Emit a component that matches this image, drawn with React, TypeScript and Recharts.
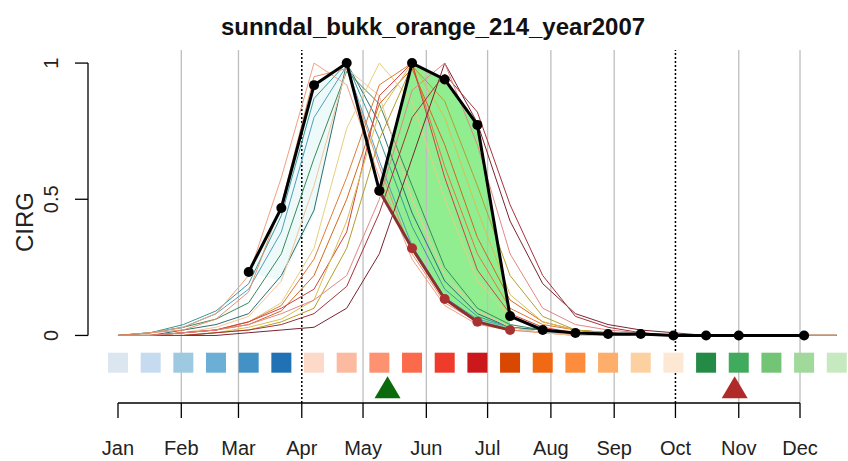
import React from 'react';
import {
  ComposedChart,
  Line,
  Area,
  Scatter,
  XAxis,
  YAxis,
  ReferenceLine
} from 'recharts';

// 16-day composite days of year
const days = [1, 17, 33, 49, 65, 81, 97, 113, 129, 145, 161, 177, 193, 209, 225, 241, 257, 273, 289, 305, 321, 337, 353];

const monthNames = ['Jan', 'Feb', 'Mar', 'Apr', 'May', 'Jun', 'Jul', 'Aug', 'Sep', 'Oct', 'Nov', 'Dec'];
const monthDays = [1, 32, 60, 91, 121, 152, 182, 213, 244, 274, 305, 335];
const gridDays = [32, 60, 121, 152, 182, 213, 244, 305, 335];
const dottedDays = [91, 274];
const yTicks = [0, 0.5, 1];

// current year (black) and reference curve (brown)
const year2007 = [null, null, null, null, 0.233, 0.468, 0.919, 1.0, 0.531, 1.0, 0.94, 0.773, 0.071, 0.02, 0.009, 0.005, 0.005, 0, 0, 0, null, 0, null];
const refCurve = [null, null, null, null, null, null, null, null, 0.531, 0.32, 0.134, 0.05, 0.02, null, null, null, null, null, null, null, null, null, null];
const springLow = [null, null, null, null, 0.233, 0.2, 0.44, 1.0, null, null, null, null, null, null, null, null, null, null, null, null, null, null, null];

// other years (thin lines)
const teal1 = [0, 0.01, 0.04, 0.09, 0.19, 0.44, 0.87, 1.0, 0.72, 0.4, 0.17, 0.07, 0.03, 0.02, 0.01, 0.01, 0, 0, 0, 0, 0, 0, 0];
const teal2 = [0, 0.01, 0.03, 0.08, 0.17, 0.38, 0.8, 0.99, 0.64, 0.33, 0.14, 0.06, 0.03, 0.01, 0.01, 0, 0, 0, 0, 0, 0, 0, 0];
const teal3 = [0, 0, 0.02, 0.04, 0.08, 0.22, 0.46, 1.0, 0.78, 0.45, 0.2, 0.08, 0.03, 0.02, 0.01, 0, 0, 0, 0, 0, 0, 0, 0];
const green1 = [0, 0.01, 0.03, 0.06, 0.12, 0.3, 0.65, 0.97, 0.85, 0.55, 0.25, 0.1, 0.04, 0.02, 0.01, 0, 0, 0, 0, 0, 0, 0, 0];
const salmon1 = [0, 0.01, 0.03, 0.08, 0.22, 0.58, 1.0, 0.92, 0.58, 0.28, 0.11, 0.04, 0.02, 0.01, 0, 0, 0, 0, 0, 0, 0, 0, 0];
const salmon2 = [0, 0.01, 0.02, 0.06, 0.16, 0.48, 0.95, 0.98, 0.62, 0.3, 0.12, 0.05, 0.02, 0.01, 0, 0, 0, 0, 0, 0, 0, 0, 0];
const peach = [0, 0, 0.01, 0.03, 0.07, 0.2, 0.55, 0.98, 0.88, 0.5, 0.22, 0.09, 0.03, 0.01, 0, 0, 0, 0, 0, 0, 0, 0, 0];
const khaki = [0, 0, 0.01, 0.02, 0.05, 0.12, 0.32, 0.76, 1.0, 0.86, 0.5, 0.2, 0.07, 0.02, 0.01, 0, 0, 0, 0, 0, 0, 0, 0];
const orange1 = [0, 0, 0.01, 0.02, 0.05, 0.11, 0.28, 0.58, 0.92, 1.0, 0.62, 0.3, 0.1, 0.04, 0.02, 0.01, 0, 0, 0, 0, 0, 0, 0];
const orange2 = [0, 0, 0.01, 0.02, 0.04, 0.09, 0.22, 0.5, 0.85, 0.98, 0.7, 0.36, 0.13, 0.05, 0.02, 0.01, 0, 0, 0, 0, 0, 0, 0];
const red1 = [0, 0, 0.01, 0.02, 0.05, 0.1, 0.17, 0.38, 0.88, 1.0, 0.58, 0.24, 0.08, 0.03, 0.01, 0, 0, 0, 0, 0, 0, 0, 0];
const yellow1 = [0, 0, 0, 0.01, 0.03, 0.06, 0.13, 0.42, 0.82, 1.0, 0.8, 0.46, 0.15, 0.05, 0.02, 0.01, 0, 0, 0, 0, 0, 0, 0];
const olive1 = [0, 0, 0, 0.01, 0.02, 0.05, 0.1, 0.32, 0.72, 0.99, 0.86, 0.55, 0.22, 0.07, 0.02, 0.01, 0, 0, 0, 0, 0, 0, 0];
const maroon1 = [0, 0, 0, 0, 0.01, 0.02, 0.03, 0.1, 0.3, 0.65, 1.0, 0.78, 0.42, 0.19, 0.08, 0.04, 0.02, 0.01, 0, 0, 0, 0, 0];
const crimson1 = [0, 0, 0, 0.01, 0.02, 0.04, 0.08, 0.18, 0.45, 0.8, 0.96, 0.82, 0.48, 0.22, 0.07, 0.03, 0.01, 0, 0, 0, 0, 0, 0];
const pink1 = [0, 0, 0.01, 0.02, 0.04, 0.08, 0.13, 0.22, 0.5, 0.9, 1.0, 0.7, 0.3, 0.1, 0.04, 0.02, 0.01, 0, 0, 0, 0, 0, 0];

const thinLines = [
  { key: 'teal1', values: teal1, color: '#3a9a9a' },
  { key: 'teal2', values: teal2, color: '#4f9fc0' },
  { key: 'teal3', values: teal3, color: '#2c7070' },
  { key: 'green1', values: green1, color: '#3a8a5a' },
  { key: 'salmon1', values: salmon1, color: '#f0a080' },
  { key: 'salmon2', values: salmon2, color: '#e8906a' },
  { key: 'peach', values: peach, color: '#f5c59a' },
  { key: 'khaki', values: khaki, color: '#e6cf80' },
  { key: 'orange1', values: orange1, color: '#e07b39' },
  { key: 'orange2', values: orange2, color: '#d2691e' },
  { key: 'red1', values: red1, color: '#d24040' },
  { key: 'yellow1', values: yellow1, color: '#d8c050' },
  { key: 'olive1', values: olive1, color: '#b0a030' },
  { key: 'maroon1', values: maroon1, color: '#7a2430' },
  { key: 'crimson1', values: crimson1, color: '#a8323a' },
  { key: 'pink1', values: pink1, color: '#e08888' }
];

// season colour strip below the curves
const squareColors = [
  '#dbe6f1', '#c6dbef', '#9ecae1', '#6baed6', '#4292c6', '#2171b5',
  '#fdd9c9', '#fcbba1', '#fc9272', '#fb6a4a', '#ef3b2c', '#cb181d',
  '#d94801', '#f16913', '#fd8d3c', '#fdae6b', '#fdd0a2', '#fde8d4',
  '#238b45', '#41ab5d', '#74c476', '#a1d99b', '#c7e9c0'
];
const markerDays = [133, 303];
const markerColors = ['#0b6a0b', '#b02a2a'];

const X_MIN = -13.69;
const X_MAX = 358.5;
const Y_MIN = -0.248;
const Y_MAX = 1.048;
const FONT = '"Liberation Sans", Arial, sans-serif';

const rows = days.map((day, i) => {
  const row: any = {
    day,
    year2007: year2007[i],
    refCurve: refCurve[i],
    greenBand: year2007[i] != null && refCurve[i] != null ? [refCurve[i], year2007[i]] : null,
    cyanBand: year2007[i] != null && springLow[i] != null ? [springLow[i], year2007[i]] : null
  };
  thinLines.forEach(s => { row[s.key] = s.values[i]; });
  return row;
});

const squareData = days.map((day, i) => ({ day, y: -0.1, color: squareColors[i] }));
const markerData = markerDays.map((day, i) => ({ day, y: -0.19, color: markerColors[i] }));

const SquareShape = (props: any) => (
  <rect x={props.cx - 10} y={props.cy - 10} width={20} height={20} fill={props.payload.color} />
);

const TriangleShape = (props: any) => {
  const { cx, cy } = props;
  return <polygon points={`${cx},${cy - 11} ${cx - 13},${cy + 11} ${cx + 13},${cy + 11}`} fill={props.payload.color} />;
};

const XTick = ({ x, payload }: any) => (
  <text x={x} y={455} textAnchor="middle" fontSize={20} fill="#222" fontFamily={FONT}>
    {monthNames[monthDays.indexOf(payload.value)]}
  </text>
);

const YTick = ({ y, payload }: any) => (
  <text transform={`translate(58, ${y}) rotate(-90)`} textAnchor="middle" fontSize={20} fill="#222" fontFamily={FONT}>
    {String(payload.value)}
  </text>
);

export default function App() {
  return (
    <div style={{ position: 'absolute', left: 0, top: 0, width: 848, height: 461, background: '#fff' }}>
      <ComposedChart width={848} height={461} data={rows} margin={{ top: 50, right: 0, bottom: 0, left: 0 }}>
        <XAxis
          dataKey="day"
          type="number"
          domain={[X_MIN, X_MAX]}
          allowDataOverflow
          ticks={monthDays}
          height={58}
          axisLine={false}
          tickLine={{ stroke: '#000', strokeWidth: 1.3 }}
          tickSize={15}
          tick={<XTick />}
        />
        <YAxis
          type="number"
          domain={[Y_MIN, Y_MAX]}
          allowDataOverflow
          ticks={yTicks}
          width={88}
          axisLine={false}
          tickLine={{ stroke: '#000', strokeWidth: 1.3 }}
          tickSize={13}
          tick={<YTick />}
        />
        {gridDays.map(d => (
          <ReferenceLine key={`g-${d}`} x={d} stroke="#bebebe" strokeWidth={1.3} />
        ))}
        {dottedDays.map(d => (
          <ReferenceLine key={`d-${d}`} x={d} stroke="#000" strokeWidth={1.5} strokeDasharray="2 2" />
        ))}
        <ReferenceLine segment={[{ x: 1, y: Y_MIN }, { x: 335, y: Y_MIN }]} stroke="#000" strokeWidth={1.3} ifOverflow="visible" />
        <ReferenceLine segment={[{ x: X_MIN, y: 0 }, { x: X_MIN, y: 1 }]} stroke="#000" strokeWidth={1.3} ifOverflow="visible" />

        <Area dataKey="cyanBand" type="linear" fill="#eefafa" fillOpacity={1} stroke="none" isAnimationActive={false} />
        <Area dataKey="greenBand" type="linear" fill="#90ee90" fillOpacity={1} stroke="none" isAnimationActive={false} />

        {thinLines.map(s => (
          <Line key={s.key} dataKey={s.key} type="linear" stroke={s.color} strokeWidth={1} dot={false} isAnimationActive={false} />
        ))}

        <Line dataKey="refCurve" type="linear" stroke="#8b3030" strokeWidth={3} dot={{ r: 5, fill: '#a83232', stroke: 'none' }} isAnimationActive={false} />
        <Line dataKey="year2007" type="linear" stroke="#000" strokeWidth={3} connectNulls dot={{ r: 5, fill: '#000', stroke: 'none' }} isAnimationActive={false} />

        <Scatter data={squareData} dataKey="y" shape={<SquareShape />} isAnimationActive={false} />
        <Scatter data={markerData} dataKey="y" shape={<TriangleShape />} isAnimationActive={false} />
      </ComposedChart>
      <svg width={848} height={461} style={{ position: 'absolute', left: 0, top: 0, pointerEvents: 'none' }}>
        <text x={433} y={35} textAnchor="middle" fontSize={24} fontWeight="bold" fill="#111" fontFamily={FONT}>
          sunndal_bukk_orange_214_year2007
        </text>
        <text transform="translate(33, 222) rotate(-90)" textAnchor="middle" fontSize={24} fill="#222" fontFamily={FONT}>
          CIRG
        </text>
      </svg>
    </div>
  );
}
